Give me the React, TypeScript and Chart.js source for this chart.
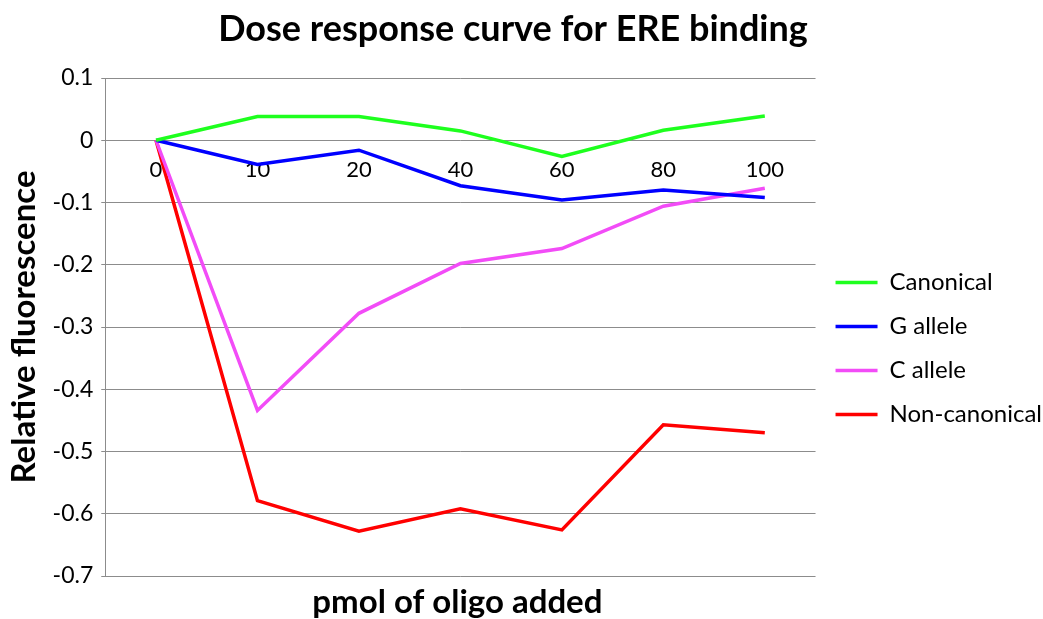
import React, { useEffect, useRef } from "react";
import { Chart, registerables } from "chart.js";

Chart.register(...registerables);

const categories = ["0", "10", "20", "40", "60", "80", "100"];
const canonical = [0, 0.038, 0.038, 0.015, -0.026, 0.016, 0.039];
const gAllele = [0, -0.039, -0.016, -0.073, -0.096, -0.08, -0.092];
const cAllele = [0, -0.434, -0.278, -0.198, -0.174, -0.106, -0.077];
const nonCanonical = [0, -0.579, -0.628, -0.592, -0.626, -0.457, -0.47];
const yTicks = [0.1, 0, -0.1, -0.2, -0.3, -0.4, -0.5, -0.6, -0.7];

const chartTitle = "Dose response curve for ERE binding";
const xTitle = "pmol of oligo added";
const yTitle = "Relative fluorescence";

const FONT = "Lato, 'Open Sans', sans-serif";

const textPlugin = {
  id: "texts",
  afterDraw(chart: any) {
    const { ctx, chartArea } = chart;
    ctx.save();
    ctx.fillStyle = "#000";
    ctx.textAlign = "center";
    ctx.textBaseline = "middle";
    ctx.font = `bold 36px ${FONT}`;
    ctx.fillText(chartTitle, 513, 29);
    ctx.font = `bold 33px ${FONT}`;
    ctx.fillText(xTitle, (chartArea.left + chartArea.right) / 2 - 3, 602);
    ctx.restore();
  },
};

export default function App() {
  const ref = useRef<HTMLCanvasElement | null>(null);
  useEffect(() => {
    if (!ref.current) return;
    const mk = (label: string, data: number[], color: string) => ({
      label,
      data,
      borderColor: color,
      backgroundColor: color,
      borderWidth: 3.5,
      pointRadius: 0,
      pointHoverRadius: 0,
      pointStyle: "line" as const,
      tension: 0,
    });
    const chart = new Chart(ref.current, {
      type: "line",
      data: {
        labels: categories,
        datasets: [
          mk("Canonical", canonical, "#1EFF1E"),
          mk("G allele", gAllele, "#0000FF"),
          mk("C allele", cAllele, "#F24CF7"),
          mk("Non-canonical", nonCanonical, "#FF0000"),
        ],
      },
      plugins: [textPlugin],
      options: {
        animation: false,
        responsive: true,
        maintainAspectRatio: false,
        layout: { padding: { left: 0, right: -9, top: 78, bottom: 43 } },
        plugins: {
          title: { display: false },
          legend: {
            position: "right",
            title: {
              display: true,
              text: " ",
              font: { family: FONT, size: 20 },
              padding: { top: 0, bottom: 19 },
            },
            labels: {
              usePointStyle: true,
              pointStyleWidth: 42,
              color: "#000",
              font: { family: FONT, size: 24 },
              padding: 20,
            },
          },
          tooltip: { enabled: false },
        },
        scales: {
          x: {
            type: "category",
            position: { y: 0 } as any,
            offset: true,
            grid: { display: false },
            border: { display: false },
            ticks: {
              color: "#000",
              font: { family: FONT, size: 22 },
              padding: 8,
            },
          },
          y: {
            min: -0.7,
            max: 0.1,
            afterBuildTicks: (axis: any) => {
              axis.ticks = yTicks.map((v) => ({ value: v }));
            },
            grid: { color: "#8c8c8c", lineWidth: 1, drawTicks: true, tickLength: 4 },
            border: { display: true, color: "#8c8c8c" },
            ticks: {
              color: "#000",
              font: { family: FONT, size: 23 },
              padding: 8,
              callback: (v: any) => {
                const n = Math.round(Number(v) * 10) / 10;
                return n === 0 ? "0" : String(n);
              },
            },
            title: {
              display: true,
              text: yTitle,
              color: "#000",
              font: { family: FONT, size: 33, weight: "bold" },
              padding: { top: 5, bottom: 0 },
            },
          },
        },
      },
    });
    return () => chart.destroy();
  }, []);
  return (
    <div style={{ position: "fixed", left: 0, top: 0, width: 1043, height: 619, background: "#fff" }}>
      <canvas ref={ref} />
    </div>
  );
}
